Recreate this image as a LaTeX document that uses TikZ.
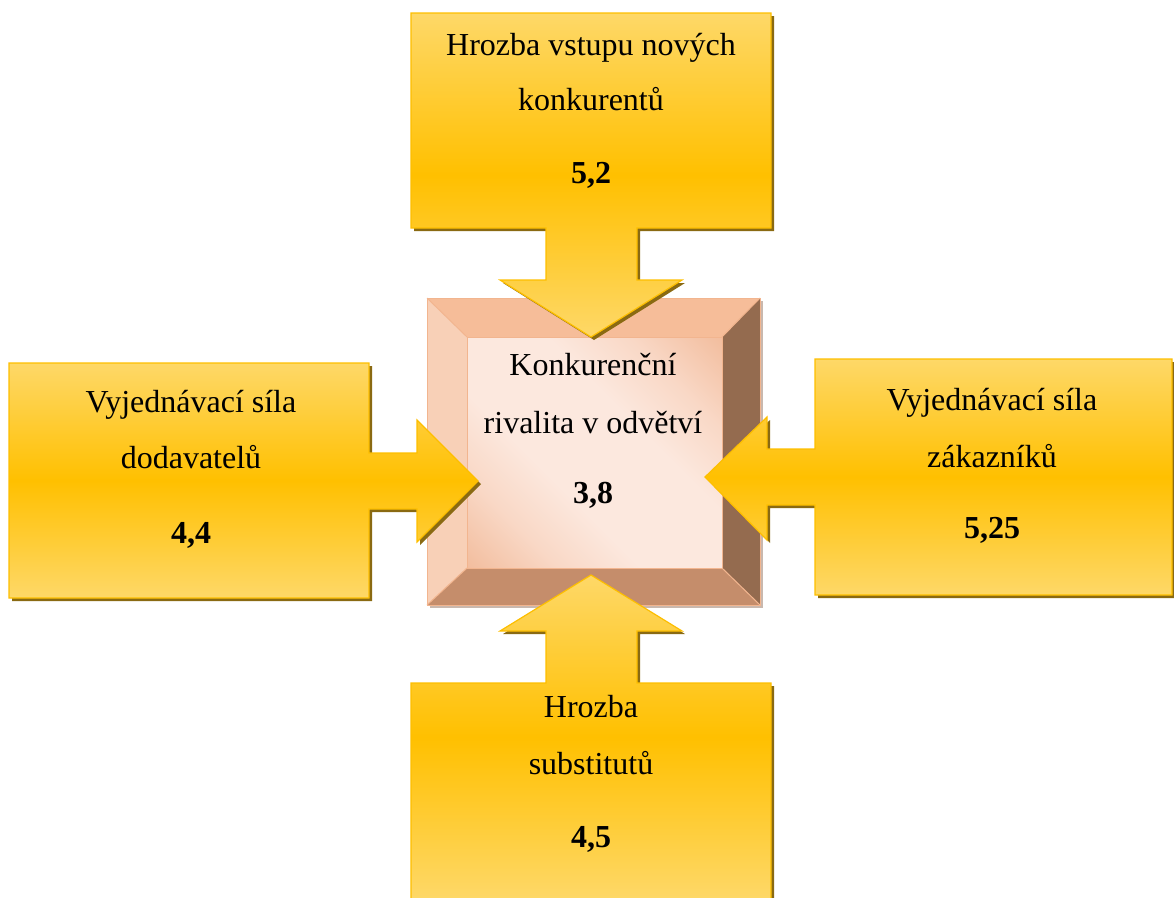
\documentclass[tikz,border=0pt]{standalone}
\usepackage{fontspec}
\setmainfont{Liberation Serif}
\definecolor{cY1}{HTML}{FED868}
\definecolor{cY2}{HTML}{FFC000}
\definecolor{cEdge}{HTML}{FDBE00}
\definecolor{cShadow}{HTML}{8A6A12}
\definecolor{bTop}{HTML}{F6BD99}
\definecolor{bLeft}{HTML}{F8D0B7}
\definecolor{bRight}{HTML}{946B4F}
\definecolor{bBottom}{HTML}{C58D6B}
\definecolor{bEdge}{HTML}{F2B58F}
\definecolor{fDark}{HTML}{F2BC9C}
\definecolor{fMid}{HTML}{F9D8C6}
\definecolor{fLight}{HTML}{FCE8DE}
\definecolor{bShadow}{HTML}{C9B8AE}
\pgfdeclarehorizontalshading{facesh}{100bp}{color(0bp)=(fDark); color(14bp)=(fDark); color(28bp)=(fMid); color(40bp)=(fLight); color(60bp)=(fLight); color(72bp)=(fMid); color(86bp)=(fDark); color(100bp)=(fDark)}
\begin{document}
\begin{tikzpicture}[x=1pt,y=-1pt,
  txt/.style={inner sep=0pt, anchor=base, font=\fontsize{32}{38}\selectfont},
  num/.style={inner sep=0pt, anchor=base, font=\fontsize{32}{38}\selectfont\bfseries},
  callout/.style={draw=cEdge, line width=1.2pt, top color=cY1, bottom color=cY1, middle color=cY2},
  cshadow/.style={fill=cShadow},
  bevel/.style={draw=bEdge, line width=1pt}]
\useasboundingbox (0,0) rectangle (1174,897);

% ---------- central bevelled box ----------
\fill[bShadow] (430,301) rectangle (763,608);
\fill[bTop] (427,298) -- (760,298) -- (722,337) -- (467,337) -- cycle;
\fill[bLeft] (427,298) -- (467,337) -- (467,568) -- (427,605) -- cycle;
\fill[bRight] (760,298) -- (760,605) -- (722,568) -- (722,337) -- cycle;
\fill[bBottom] (427,605) -- (760,605) -- (722,568) -- (467,568) -- cycle;
\shade[shading=facesh, shading angle=45] (467,337) rectangle (722,568);
\draw[bevel] (427,298) -- (467,337) (760,298) -- (722,337) (427,605) -- (467,568) (760,605) -- (722,568);
\draw[bevel] (467,337) rectangle (722,568);
\draw[bevel] (427,298) rectangle (760,605);

% ---------- top callout ----------
\def\topcall{(411,13) -- (771,13) -- (771,228) -- (637,228) -- (637,280) -- (682,280) -- (591,337) -- (500,280) -- (546,280) -- (546,228) -- (411,228) -- cycle}
\fill[cshadow, shift={(3,3)}] \topcall;
\path[callout] \topcall;

% ---------- left callout ----------
\def\leftcall{(9,363) -- (369,363) -- (369,453) -- (417,453) -- (417,420) -- (478,481) -- (417,542) -- (417,509) -- (369,509) -- (369,598) -- (9,598) -- cycle}
\fill[cshadow, shift={(3,3)}] \leftcall;
\path[callout] \leftcall;

% ---------- right callout ----------
\def\rightcall{(815,359) -- (1172,359) -- (1172,595) -- (815,595) -- (815,505) -- (767,505) -- (767,540) -- (705,477) -- (767,417) -- (767,449) -- (815,449) -- cycle}
\fill[cshadow, shift={(3,3)}] \rightcall;
\path[callout] \rightcall;

% ---------- bottom callout ----------
\def\bottomcall{(411,683) -- (546,683) -- (546,631) -- (500,631) -- (591,575) -- (682,631) -- (637,631) -- (637,683) -- (771,683) -- (771,899) -- (411,899) -- cycle}
\fill[cshadow, shift={(3,3)}] \bottomcall;
\path[callout] \bottomcall;

% ---------- texts ----------
\node[txt] (t1) at (591,55) {Hrozba vstupu nových};
\node[txt] (t2) at (591,110) {konkurentů};
\node[num] (t3) at (591,183) {5,2};

\node[txt] (c1) at (593,375) {Konkurenční};
\node[txt] (c2) at (593,433) {rivalita v odvětví};
\node[num] (c3) at (593,503) {3,8};

\node[txt] (l1) at (191,412) {Vyjednávací síla};
\node[txt] (l2) at (191,468) {dodavatelů};
\node[num] (l3) at (191,543) {4,4};

\node[txt] (r1) at (992,410) {Vyjednávací síla};
\node[txt] (r2) at (992,467) {zákazníků};
\node[num] (r3) at (992,538) {5,25};

\node[txt] (b1) at (591,717) {Hrozba};
\node[txt] (b2) at (591,774) {substitutů};
\node[num] (b3) at (591,847) {4,5};
\end{tikzpicture}
\end{document}
